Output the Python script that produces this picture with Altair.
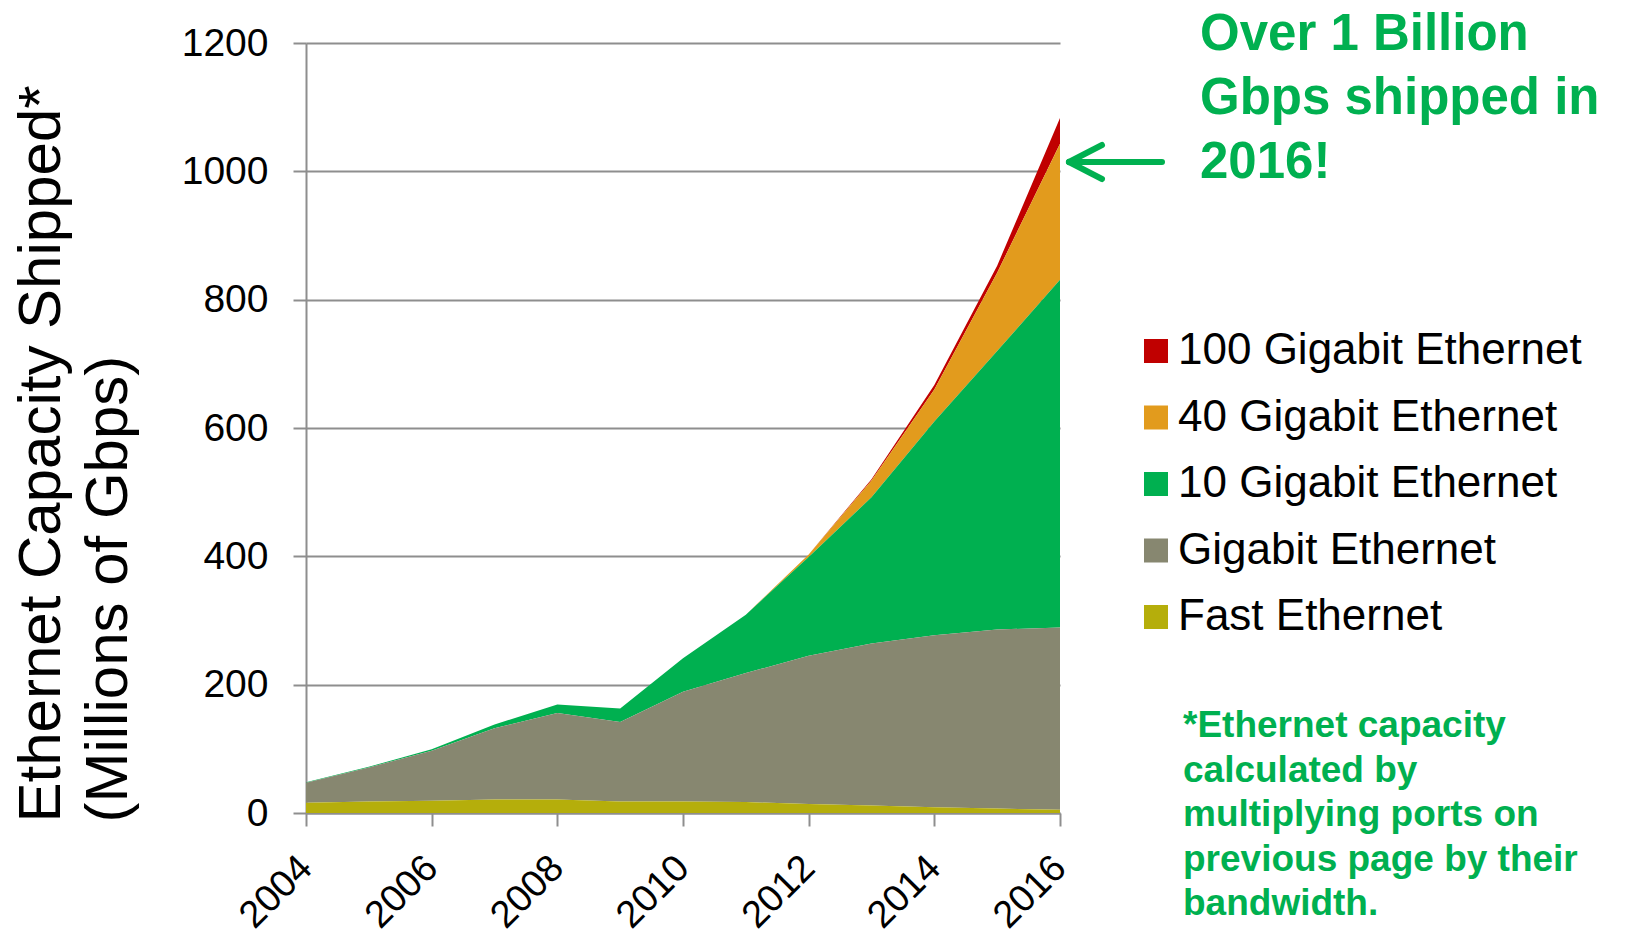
import altair as alt
import pandas as pd

# Ethernet capacity shipped per year, millions of Gbps, by port speed
years = list(range(2004, 2017))
fast_ethernet = [16, 18, 19, 21, 21, 18, 18, 17, 14, 11.5, 9, 7, 5]
gigabit_ethernet = [31, 53, 78, 111, 135, 124, 171, 201, 231, 252.5, 268, 279, 284]
ten_gigabit = [1, 1, 2.5, 6, 13, 21, 52, 91, 154, 228, 333, 434, 542]
forty_gigabit = [0, 0, 0, 0, 0, 0, 0, 0, 4, 26, 50, 122, 212]
hundred_gigabit = [0, 0, 0, 0, 0, 0, 0, 0, 0, 2, 7, 11, 40]

# legend order (top to bottom) and matching colours
series_names = [
    "100 Gigabit Ethernet",
    "40 Gigabit Ethernet",
    "10 Gigabit Ethernet",
    "Gigabit Ethernet",
    "Fast Ethernet",
]
series_colors = ["#C00000", "#E29B1D", "#00B050", "#878770", "#B5AE0B"]
series_values = [hundred_gigabit, forty_gigabit, ten_gigabit, gigabit_ethernet, fast_ethernet]

year_ticks = [2004, 2006, 2008, 2010, 2012, 2014, 2016]
value_ticks = [0, 200, 400, 600, 800, 1000, 1200]

headline = ["Over 1 Billion", "Gbps shipped in", "2016!"]
footnote = [
    "*Ethernet capacity",
    "calculated by",
    "multiplying ports on",
    "previous page by their",
    "bandwidth.",
]

rows = []
n = len(series_names)
for i, (name, vals) in enumerate(zip(series_names, series_values)):
    for y, v in zip(years, vals):
        # stack rank: Fast Ethernet at the bottom
        rows.append({"year": y, "tech": name, "value": v, "rank": n - i})
df = pd.DataFrame(rows)

FONT = "Liberation Sans"
GREEN = "#00B050"
GRID = "#8E8E8E"

areas = alt.Chart(df).mark_area(interpolate="linear").encode(
    x=alt.X(
        "year:Q",
        scale=alt.Scale(domain=[2004, 2016], nice=False, zero=False),
        axis=alt.Axis(
            values=year_ticks,
            format="d",
            title=None,
            grid=False,
            labelAngle=-45,
            labelAlign="right",
            labelBaseline="middle",
            labelPadding=36,
            labelFontSize=38,
            labelFont=FONT,
            labelColor="black",
            tickSize=13,
            tickColor=GRID,
            tickWidth=2,
            domainColor=GRID,
            domainWidth=2,
        ),
    ),
    y=alt.Y(
        "value:Q",
        stack="zero",
        scale=alt.Scale(domain=[0, 1200], nice=False),
        axis=alt.Axis(
            values=value_ticks,
            format="d",
            title=["Ethernet Capacity Shipped*", "(Millions of Gbps)"],
            titleFont=FONT,
            titleFontSize=60,
            titleFontWeight="normal",
            titleColor="black",
            titleAngle=270,
            titleAlign="left",
            titleAnchor="start",
            titleBaseline="top",
            titleLineHeight=67,
            titleX=-294,
            titleY=779,
            labelFontSize=39,
            labelFont=FONT,
            labelColor="black",
            labelPadding=25,
            tickSize=13,
            tickColor=GRID,
            tickWidth=2,
            domainColor=GRID,
            domainWidth=2,
            grid=True,
            gridColor=GRID,
            gridWidth=2,
        ),
    ),
    color=alt.Color(
        "tech:N",
        scale=alt.Scale(domain=series_names, range=series_colors),
        legend=alt.Legend(
            title=None,
            orient="none",
            legendX=828,
            legendY=286,
            symbolType="square",
            symbolSize=576,
            symbolStrokeWidth=0,
            labelFont=FONT,
            labelFontSize=44,
            labelColor="black",
            labelOffset=0,
            labelLimit=600,
            rowPadding=22.5,
        ),
    ),
    order=alt.Order("rank:Q", sort="ascending"),
)

one = pd.DataFrame({"k": [0]})

headline_text = alt.Chart(one).mark_text(
    font=FONT,
    fontSize=51,
    fontWeight="bold",
    color=GREEN,
    align="left",
    baseline="alphabetic",
    lineHeight=63.75,
).encode(x=alt.value(894), y=alt.value(7), text=alt.value(headline))

footnote_text = alt.Chart(one).mark_text(
    font=FONT,
    fontSize=37,
    fontWeight="bold",
    color=GREEN,
    align="left",
    baseline="alphabetic",
    lineHeight=44.6,
).encode(x=alt.value(877), y=alt.value(694), text=alt.value(footnote))

# arrow pointing at the 2016 total
arrow_style = dict(color=GREEN, strokeWidth=6, strokeCap="round")
arrow_shaft = alt.Chart(one).mark_rule(**arrow_style).encode(
    x=alt.value(763), x2=alt.value(856), y=alt.value(119)
)
arrow_upper = alt.Chart(one).mark_rule(**arrow_style).encode(
    x=alt.value(763), x2=alt.value(796), y=alt.value(119), y2=alt.value(102)
)
arrow_lower = alt.Chart(one).mark_rule(**arrow_style).encode(
    x=alt.value(763), x2=alt.value(796), y=alt.value(119), y2=alt.value(136)
)

chart = (
    alt.layer(areas, headline_text, footnote_text, arrow_shaft, arrow_upper, arrow_lower)
    .properties(
        width=754,
        height=770,
        padding={"left": 306, "top": 43, "right": 567, "bottom": 125},
        autosize=alt.AutoSizeParams(type="none"),
        background="white",
    )
    .configure_view(stroke=None)
)

chart.save("out.html", embed_options={"renderer": "svg", "actions": False})
